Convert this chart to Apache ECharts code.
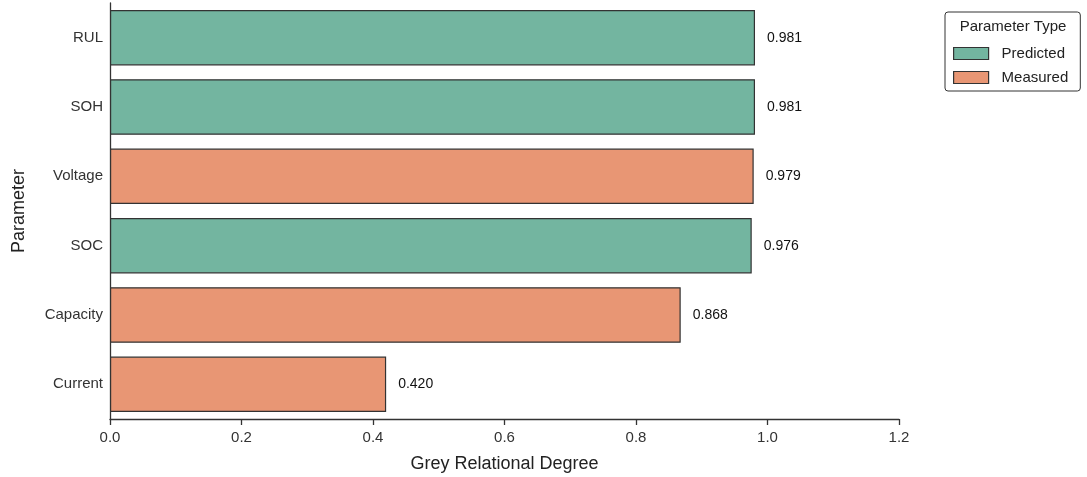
<!DOCTYPE html>
<html><head><meta charset="utf-8">
<script src="https://cdn.jsdelivr.net/npm/echarts@6/dist/echarts.min.js"></script>
<style>html,body{margin:0;padding:0;background:#fff}#c{width:1087px;height:477px}</style>
</head><body><div id="c"></div>
<script>
const categories = ['RUL', 'SOH', 'Voltage', 'SOC', 'Capacity', 'Current'];
const values = [0.981, 0.981, 0.979, 0.976, 0.868, 0.420];
const types = ['Predicted', 'Predicted', 'Measured', 'Predicted', 'Measured', 'Measured'];
const xTicks = [0, 0.2, 0.4, 0.6, 0.8, 1.0, 1.2];

const colors = { Predicted: '#73b5a0', Measured: '#e89674' };
const font = 'Liberation Sans, Arial, sans-serif';

function seriesFor(t) {
  return {
    name: t, type: 'bar', barWidth: '80%', barGap: '-100%',
    itemStyle: { color: colors[t], borderColor: '#333', borderWidth: 1.2 },
    label: { show: true, position: 'right', distance: 12, fontFamily: font, fontSize: 14, color: '#111',
      formatter: p => p.value.toFixed(3) },
    data: values.map((v, i) => types[i] === t ? v : '-')
  };
}

const chart = echarts.init(document.getElementById('c'), null, { renderer: 'canvas' });
chart.setOption({
  animation: false,
  grid: { left: 110, right: 188, top: 3, bottom: 58, containLabel: false, outerBoundsMode: 'none' },
  xAxis: {
    type: 'value', min: 0, max: 1.2, interval: 0.2,
    name: 'Grey Relational Degree', nameLocation: 'middle', nameGap: 36,
    nameTextStyle: { fontFamily: font, fontSize: 18, color: '#222' },
    axisLine: { show: true, lineStyle: { color: '#333', width: 1.3 } },
    axisTick: { show: true, length: 6, lineStyle: { color: '#333', width: 1.3 } },
    axisLabel: { fontFamily: font, fontSize: 15, color: '#333', margin: 11,
      formatter: v => xTicks.includes(+v.toFixed(1)) ? v.toFixed(1) : '' },
    splitLine: { show: false }
  },
  yAxis: {
    type: 'category', data: categories, inverse: true,
    name: 'Parameter', nameLocation: 'middle', nameGap: 82, nameRotate: 90,
    nameTextStyle: { fontFamily: font, fontSize: 18, color: '#222' },
    axisLine: { show: true, lineStyle: { color: '#333', width: 1.3 } },
    axisTick: { show: false },
    axisLabel: { fontFamily: font, fontSize: 15, color: '#333', margin: 7 },
    splitLine: { show: false }
  },
  legend: {
    orient: 'vertical', left: 945, top: 12, width: 136,
    padding: [34, 12, 6, 8], itemGap: 9, itemWidth: 35, itemHeight: 12,
    icon: 'rect',
    borderColor: '#333', borderWidth: 1, borderRadius: 3,
    textStyle: { fontFamily: font, fontSize: 15, color: '#222', padding: [0, 0, 0, 8] },
    itemStyle: { borderColor: '#333', borderWidth: 1.2 },
    data: ['Predicted', 'Measured']
  },
  graphic: [{
    type: 'text', x: 1013, y: 27,
    style: { text: 'Parameter Type', fontFamily: font, fontSize: 15, fill: '#222', align: 'center', verticalAlign: 'middle' }
  }],
  series: [seriesFor('Predicted'), seriesFor('Measured')]
});
</script></body></html>
